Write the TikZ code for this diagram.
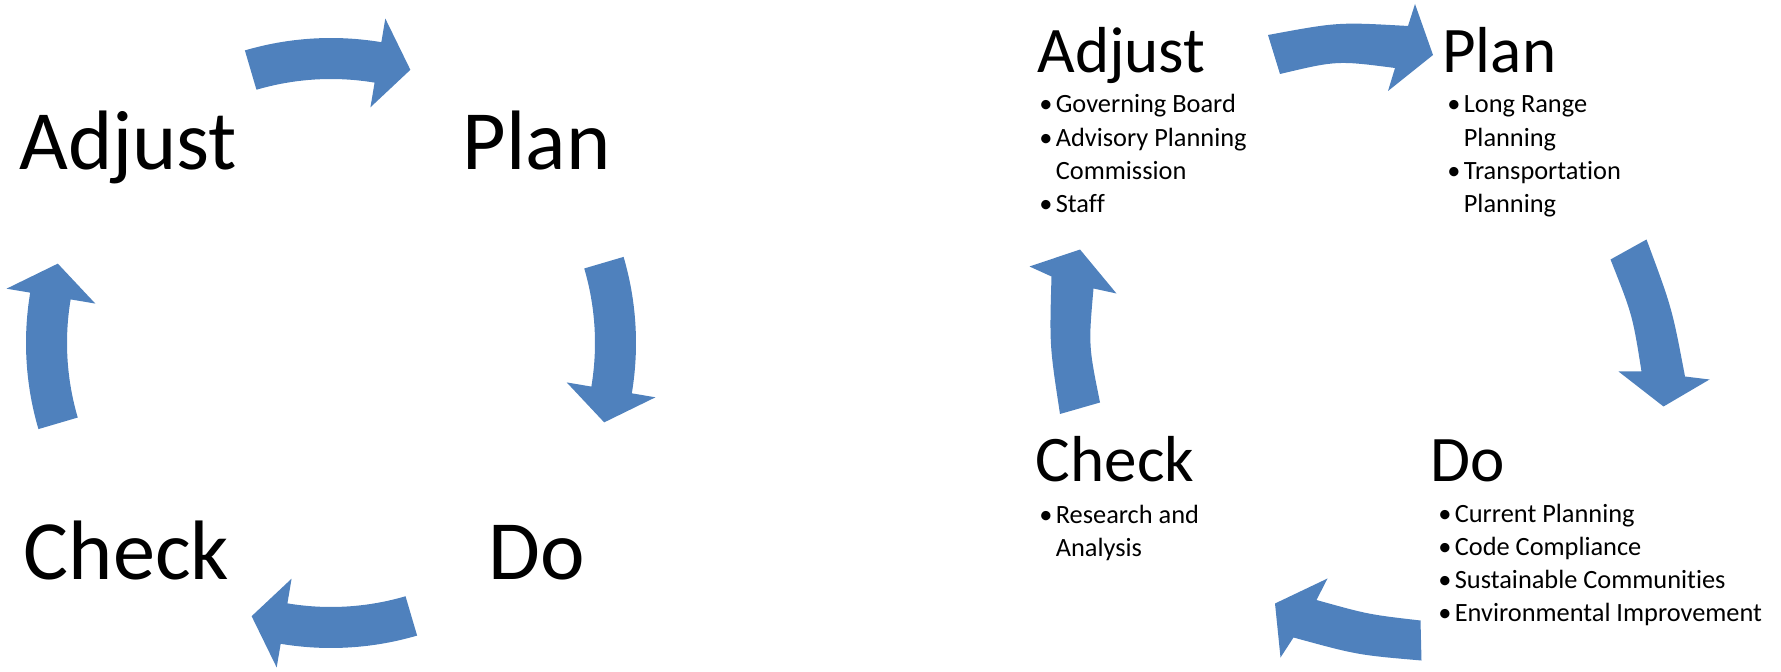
\documentclass[tikz,border=0pt]{standalone}
\usepackage{fontspec}
\setmainfont{Carlito}[Ligatures=CommonOff]
\usepackage{tikz}
\usetikzlibrary{calc}
\definecolor{arrowblue}{HTML}{4F81BD}
\newcommand{\itembul}{\makebox[0.33cm][l]{\textbullet}}
\newcommand{\itemgap}{\hspace*{0.33cm}}
\def\cyclearrow(#1)(#2:#3:#4){\fill[arrowblue] ($(#1)+(#2:6.10)$) arc (#2:#3:6.10) -- ($(#1)+(#3:6.58)$) -- ($(#1)+(#4:5.69)$) -- ($(#1)+(#3:4.78)$) -- ($(#1)+(#3:5.28)$) arc (#3:#2:5.28) -- cycle;}
\tikzset{
  bigtitle/.style={inner sep=0, anchor=base west, font=\fontsize{48}{58}\selectfont},
  smalltitle/.style={inner sep=0, anchor=base west, font=\fontsize{37}{44}\selectfont},
  itemlist/.style={inner sep=0, anchor=base west, font=\fontsize{15}{18.8}\selectfont}
}

\begin{document}
\begin{tikzpicture}
			\useasboundingbox (0,0) rectangle (35.62,13.42);
			%%%%% LEFT %%%%%
			\coordinate (lc) at (6.62,6.56);
			\foreach \a/\b/\c in {106.4/80.5/73.8, 16.4/-9.5/-16.2, -73.6/-99.5/-106.2, -163.6/-189.5/-196.2}
				\cyclearrow(lc)(\a:\b:\c);
			
			\node[bigtitle] (ladjust) at (0.38,10.02) {Adjust};
			\node[bigtitle] (lplan) at (9.25,10.02) {Plan};
			\node[bigtitle] (lcheck) at (0.47,1.84) {Check};
			\node[bigtitle] (ldo) at (9.76,1.84) {Do};
			
			%%%%% RIGHT %%%%%
			\fill[arrowblue] (25.36,12.72) .. controls (26.76,12.98) .. (28.16,12.90) -- (28.30,13.34) -- (28.66,12.32) -- (27.76,11.60) -- (27.90,12.06) .. controls (26.74,12.21) .. (25.60,11.94) -- cycle;
			\fill[arrowblue] (32.93,8.63) .. controls (33.44,7.26) .. (33.70,5.89) -- (34.19,5.83) -- (33.27,5.29) -- (32.37,5.99) -- (32.83,5.99) .. controls (32.65,7.12) .. (32.21,8.23) -- cycle;
			\fill[arrowblue] (28.41,1.01) .. controls (27.37,1.13) .. (26.33,1.42) -- (26.55,1.85) -- (25.50,1.35) -- (25.61,0.27) -- (25.87,0.67) .. controls (27.15,0.32) .. (28.43,0.21) -- cycle;
			\fill[arrowblue] (21.20,5.14) .. controls (20.99,6.51) .. (21.03,7.89) -- (20.59,8.09) -- (21.60,8.43) -- (22.33,7.55) -- (21.87,7.65) .. controls (21.77,6.51) .. (22.00,5.37) -- cycle;
			
			\node[smalltitle] (radjust) at (20.74,11.97) {Adjust};
			\node[smalltitle] (rplan) at (28.84,11.97) {Plan};
			\node[smalltitle] (rcheck) at (20.71,3.79) {Check};
			\node[smalltitle] (rdo) at (28.61,3.79) {Do};
			
			\node[itemlist] (radjustlist) at (20.78,11.16) {\begin{tabular}[t]{@{}l@{}}\itembul Governing Board\\ \itembul Advisory Planning\\ \itemgap Commission\\ \itembul Staff\end{tabular}};
			\node[itemlist] (rplanlist) at (28.94,11.16) {\begin{tabular}[t]{@{}l@{}}\itembul Long Range\\ \itemgap Planning\\ \itembul Transportation\\ \itemgap Planning\end{tabular}};
			\node[itemlist] (rchecklist) at (20.78,2.95) {\begin{tabular}[t]{@{}l@{}}\itembul Research and\\ \itemgap Analysis\end{tabular}};
			\node[itemlist] (rdolist) at (28.76,2.97) {\begin{tabular}[t]{@{}l@{}}\itembul Current Planning\\ \itembul Code Compliance\\ \itembul Sustainable Communities\\ \itembul Environmental Improvement\end{tabular}};
		\end{tikzpicture}
\end{document}
